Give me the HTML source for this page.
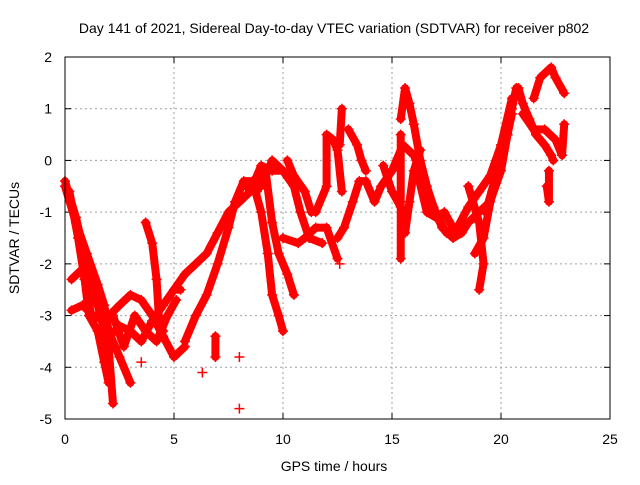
<!DOCTYPE html>
<html><head><meta charset="utf-8"><style>
body{margin:0;background:#fff}
svg text{font-family:"Liberation Sans",sans-serif;font-size:14px;fill:#000}
</style></head><body>
<svg id="c" width="640" height="480" xmlns="http://www.w3.org/2000/svg">
<text x="334" y="33" text-anchor="middle">Day 141 of 2021, Sidereal Day-to-day VTEC variation (SDTVAR) for receiver p802</text>
<text x="334" y="471" text-anchor="middle">GPS time / hours</text>
<text transform="translate(19,238) rotate(-90)" text-anchor="middle">SDTVAR / TECUs</text>
<g id="grid"></g><g id="ticks"></g><g id="data"></g>
<rect x="65" y="57" width="545" height="362" fill="none" stroke="#000" stroke-width="1"/>
</svg>
<script>
const xTicks=[0,5,10,15,20,25];
const yTicks=[2,1,0,-1,-2,-3,-4,-5];
const tracks=[
[[0,-0.4],[0.5,-1.1],[1,-2],[1.5,-2.8],[2,-3.6],[2.2,-4.7]],
[[0,-0.5],[0.5,-1.2],[1,-1.8],[1.5,-2.4],[1.8,-2.8],[2,-3.3],[2.5,-3.8],[3,-4.3]],
[[0.2,-0.6],[0.6,-1.5],[0.9,-2.3],[1.1,-3.0],[1.5,-3.3],[1.8,-3.9],[2.0,-4.3]],
[[0.3,-2.3],[0.8,-2.1],[1,-2.5],[1.2,-3.0]],
[[0.3,-2.9],[0.8,-2.8],[1.3,-3],[1.8,-3.1],[2.5,-2.8],[3,-2.6],[3.5,-2.7],[4,-3.0],[4.5,-3.4],[5,-3.8],[5.5,-3.6]],
[[1.8,-3.5],[2.5,-3.2],[3,-3.3],[3.5,-3.5],[4,-3.1],[4.5,-2.8],[5,-2.5],[5.3,-2.5]],
[[2.2,-3.0],[2.7,-3.6],[3.2,-3.0],[3.7,-3.3],[4.2,-3.5],[4.7,-3.0],[5.1,-2.7]],
[[3.7,-1.2],[4,-1.6],[4.2,-2.3],[4.3,-3],[4.5,-3.3]],
[[5,-2.5],[5.5,-2.2],[6,-2.0],[6.5,-1.8],[7,-1.4],[7.5,-1.0],[8,-0.8],[8.5,-0.6],[9,-0.1],[9.5,-0.2],[10,-0.2]],
[[5.5,-3.5],[6,-3.0],[6.5,-2.6],[7,-2.0],[7.5,-1.3],[7.8,-0.8],[8.2,-0.4],[8.6,-0.4],[9,-1.0],[9.3,-1.8],[9.5,-2.6],[9.8,-3.0],[10,-3.3]],
[[8.3,-0.5],[8.8,-0.6],[9.2,-0.2],[9.5,-1.2],[9.8,-1.8],[10.2,-2.2],[10.5,-2.6]],
[[9,-0.5],[9.5,0],[10,-0.2],[10.5,-0.5],[10.8,-1],[11.2,-1.5],[11.8,-1.6]],
[[10.2,0],[10.5,-0.3],[11,-0.6],[11.3,-1.0]],
[[10,-1.5],[10.7,-1.6],[11,-1.5],[11.5,-1.3],[12,-1.3],[12.5,-1.9]],
[[11.5,-1],[12,-0.5],[12,0.5],[12.3,0.4],[12.5,0.2],[12.7,-0.6]],
[[12.7,1],[12.6,0.3]],
[[13,0.6],[13.4,0.3],[13.6,0],[13.8,-0.2]],
[[12.5,-1.5],[12.8,-1.3],[13.2,-0.8],[13.5,-0.4],[13.8,-0.4],[14.2,-0.8],[14.5,-0.5],[15,-0.2],[15.5,0.3],[16,0.1],[16.5,-0.4],[17,-1.0],[17.5,-1.4],[18,-1.3],[18.5,-0.9],[19,-0.6],[19.5,-0.3],[20,0.3],[20.5,1.2]],
[[15.4,0.8],[15.6,1.4],[15.8,1.1],[16,0.7],[16.3,0.0],[16.6,-0.5],[16.9,-0.9],[17.3,-1.3],[17.8,-1.5],[18.2,-1.4],[18.5,-1.2],[19,-1.0],[19.5,-0.8],[20,-0.2],[20.3,0.5],[20.5,0.9]],
[[14.6,-0.1],[15,-0.6],[15.4,-0.9],[15.6,-1.4],[15.8,-0.8],[16,-0.2],[16.3,0.2]],
[[15.4,0.5],[15.4,-1.9]],
[[16.2,-0.3],[16.6,-1.0],[17,-1.1],[17.4,-1.0],[17.8,-1.3]],
[[18.5,-0.5],[19,-1.2],[19.2,-2.0],[19,-2.5]],
[[18.8,-1.8],[19.2,-1.5],[19.6,-0.6],[20,0.0],[20.3,0.5],[20.5,1.0],[20.7,1.4]],
[[19.3,-1.0],[19.7,-0.4],[20.1,0.3],[20.4,0.8]],
[[20.8,1.4],[21,1.1],[21.3,0.8],[21.6,0.5],[22,0.3],[22.3,0.1],[22.4,0.0]],
[[21,0.9],[21.5,0.6],[22,0.6],[22.5,0.4],[22.8,0.1],[22.9,0.7]],
[[21.5,1.2],[21.8,1.6],[22.3,1.8],[22.5,1.6],[22.9,1.3]],
[[22.1,-0.5],[22.2,-0.8],[22.2,-0.2]],
[[6.9,-3.4],[6.9,-3.8]],[[6.3,-4.1]],[[8,-4.8]],[[8,-3.8]],[[12.6,-2.0]],[[3.5,-3.9]]
];
const X=t=>65+t*21.8, Y=v=>57+(2-v)*51.714;
const NS="http://www.w3.org/2000/svg";
const g=document.getElementById('grid'),tk=document.getElementById('ticks'),d=document.getElementById('data');
function mk(tag,attrs,parent){const e=document.createElementNS(NS,tag);for(const k in attrs)e.setAttribute(k,attrs[k]);parent.appendChild(e);return e;}
xTicks.forEach(t=>{
 if(t>0&&t<25){const l=mk('line',{x1:X(t),x2:X(t),y1:57,y2:419,stroke:'#a0a0a0','stroke-dasharray':'2,3'},g);
 
 }
 const s=mk('text',{x:X(t),y:444,'text-anchor':'middle'},tk);s.textContent=t;
 
 
 mk('line',{x1:X(t),x2:X(t),y1:419,y2:413,stroke:'#000'},tk);mk('line',{x1:X(t),x2:X(t),y1:57,y2:63,stroke:'#000'},tk);
});
yTicks.forEach(v=>{
 if(v<2&&v>-5){const l=mk('line',{x1:65,x2:610,y1:Y(v),y2:Y(v),stroke:'#a0a0a0','stroke-dasharray':'2,3'},g);
 
 }
 const s=mk('text',{x:52,y:Y(v)+5,'text-anchor':'end'},tk);s.textContent=v;
 
 
 mk('line',{x1:65,x2:71,y1:Y(v),y2:Y(v),stroke:'#000'},tk);mk('line',{x1:610,x2:604,y1:Y(v),y2:Y(v),stroke:'#000'},tk);
});
tracks.forEach(tr=>{
 const pts=tr.map(p=>X(p[0])+','+Y(p[1])).join(' ');
 const pl=mk('polyline',{points:pts,fill:'none',stroke:'#ff0000','stroke-width':8,'stroke-linejoin':'round','stroke-linecap':'round'},d);
 
 
 tr.forEach(p=>{const x=X(p[0]),y=Y(p[1]);
  const m=mk('path',{d:`M${x-5},${y}H${x+5}M${x},${y-5}V${y+5}`,stroke:'#ff0000','stroke-width':1.5},d);
  
  });
});
</script>
</body></html>
